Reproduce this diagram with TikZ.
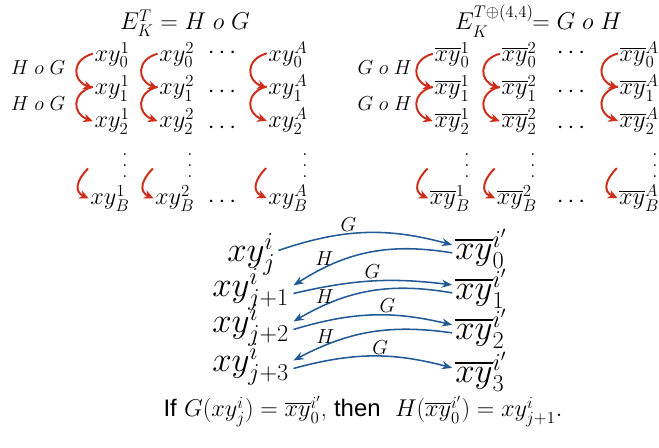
\documentclass[tikz,border=0pt]{standalone}
\usepackage{amsmath}
\usepackage{fontspec}
\newfontfamily\notesans{Liberation Sans}
\usetikzlibrary{arrows.meta, positioning}

\definecolor{chainred}{RGB}{205,45,25}
\definecolor{mapblue}{RGB}{35,90,150}
\newcommand{\colvdots}{\vbox{\baselineskip=7.8pt\lineskiplimit=0pt\hbox{.}\hbox{.}\hbox{.}}}

\begin{document}
\begin{tikzpicture}[>=Stealth,
  head/.style={anchor=base, inner sep=0pt, font=\fontsize{18}{22}\selectfont},
  tag/.style={anchor=base, inner sep=0pt, font=\fontsize{15.5}{19}\selectfont},
  cell/.style={anchor=base, inner sep=0pt, font=\fontsize{16.5}{19}\selectfont},
  gap/.style={inner sep=0pt, font=\fontsize{16}{19}\selectfont},
  big/.style={anchor=base west, inner sep=0pt, font=\fontsize{23}{27}\selectfont},
  note/.style={anchor=base, inner sep=0pt, font=\fontsize{17}{21}\selectfont},
  maplabel/.style={inner sep=1pt, font=\fontsize{15}{18}\selectfont},
  chain/.style={-{Stealth[length=2.4mm, width=2.2mm]}, draw=chainred, line width=1.4pt},
  map/.style={-{Stealth[length=2.6mm, width=2mm]}, draw=mapblue, line width=1.1pt}]
  \useasboundingbox (0,0) rectangle (16.475,11.2);

  \node[head] (titleL) at (4.625,10.45) {$E^T_K = H\; o\; G$};
  \node[head] (titleR) at (13.46,10.45) {$E_K^{T\oplus(4,4)}\!\!= G\; o\; H$};

  \node[tag] (tagL1) at (0.95,9.325) {$H\;o\;G$};
  \node[tag] (tagL2) at (0.95,8.425) {$H\;o\;G$};
  \node[tag] (tagR1) at (9.62,9.325) {$G\;o\;H$};
  \node[tag] (tagR2) at (9.62,8.425) {$G\;o\;H$};

  \node[cell] (l1-0) at (2.8,9.65) {$xy^1_0$};
  \node[cell] (l1-1) at (2.8,8.825) {$xy^1_1$};
  \node[cell] (l1-2) at (2.8,8.0) {$xy^1_2$};
  \node[cell] (l1-B) at (2.75,6.075) {$xy^1_B$};
  \node[cell] (l2-0) at (4.42,9.65) {$xy^2_0$};
  \node[cell] (l2-1) at (4.42,8.825) {$xy^2_1$};
  \node[cell] (l2-2) at (4.42,8.0) {$xy^2_2$};
  \node[cell] (l2-B) at (4.37,6.075) {$xy^2_B$};
  \node[cell] (lA-0) at (7.2,9.65) {$xy^A_0$};
  \node[cell] (lA-1) at (7.2,8.825) {$xy^A_1$};
  \node[cell] (lA-2) at (7.2,8.0) {$xy^A_2$};
  \node[cell] (lA-B) at (7.2,6.075) {$xy^A_B$};
  \node[gap] (ld-0) at (5.6,9.875) {$\cdots$};
  \node[gap] (ld-1) at (5.6,8.9) {$\cdots$};
  \node[gap] (ld-2) at (5.6,8.0) {$\cdots$};
  \node[gap] (ld-B) at (5.6,6.15) {$\cdots$};
  \node[gap] (lv-1) at (3.125,7.05) {\colvdots};
  \node[gap] (lv-2) at (4.75,7.05) {\colvdots};
  \node[gap] (lv-A) at (7.625,7.05) {\colvdots};

  \node[cell] (r1-0) at (11.3,9.65) {$\overline{xy}^1_0$};
  \node[cell] (r1-1) at (11.3,8.825) {$\overline{xy}^1_1$};
  \node[cell] (r1-2) at (11.3,8.0) {$\overline{xy}^1_2$};
  \node[cell] (r1-B) at (11.25,6.075) {$\overline{xy}^1_B$};
  \node[cell] (r2-0) at (12.975,9.65) {$\overline{xy}^2_0$};
  \node[cell] (r2-1) at (12.975,8.825) {$\overline{xy}^2_1$};
  \node[cell] (r2-2) at (12.975,8.0) {$\overline{xy}^2_2$};
  \node[cell] (r2-B) at (12.925,6.075) {$\overline{xy}^2_B$};
  \node[cell] (rA-0) at (15.98,9.65) {$\overline{xy}^A_0$};
  \node[cell] (rA-1) at (15.98,8.825) {$\overline{xy}^A_1$};
  \node[cell] (rA-2) at (15.98,8.0) {$\overline{xy}^A_2$};
  \node[cell] (rA-B) at (15.98,6.075) {$\overline{xy}^A_B$};
  \node[gap] (rd-0) at (14.325,9.875) {$\cdots$};
  \node[gap] (rd-1) at (14.325,8.9) {$\cdots$};
  \node[gap] (rd-2) at (14.325,8.0) {$\cdots$};
  \node[gap] (rd-B) at (14.325,6.15) {$\cdots$};
  \node[gap] (rv-1) at (11.675,7.05) {\colvdots};
  \node[gap] (rv-2) at (13.325,7.05) {\colvdots};
  \node[gap] (rv-A) at (16.375,7.05) {\colvdots};

  \coordinate (l1-t) at ([shift={(-0.05,0.75)}]l1-B.west);
  \coordinate (l2-t) at ([shift={(-0.05,0.75)}]l2-B.west);
  \coordinate (lA-t) at ([shift={(-0.05,0.75)}]lA-B.west);
  \coordinate (r1-t) at ([shift={(-0.05,0.75)}]r1-B.west);
  \coordinate (r2-t) at ([shift={(-0.05,0.75)}]r2-B.west);
  \coordinate (rA-t) at ([shift={(-0.05,0.75)}]rA-B.west);

  \draw[chain] ([shift={(-1pt,1pt)}]l1-0.west) to[out=195, in=160, looseness=1.65] ([xshift=-1pt]l1-1.west);
  \draw[chain] ([shift={(-1pt,1pt)}]l1-1.west) to[out=195, in=160, looseness=1.65] ([xshift=-1pt]l1-2.west);
  \draw[chain] ([shift={(-1pt,1pt)}]l2-0.west) to[out=195, in=160, looseness=1.65] ([xshift=-1pt]l2-1.west);
  \draw[chain] ([shift={(-1pt,1pt)}]l2-1.west) to[out=195, in=160, looseness=1.65] ([xshift=-1pt]l2-2.west);
  \draw[chain] ([shift={(-1pt,1pt)}]lA-0.west) to[out=195, in=160, looseness=1.65] ([xshift=-1pt]lA-1.west);
  \draw[chain] ([shift={(-1pt,1pt)}]lA-1.west) to[out=195, in=160, looseness=1.65] ([xshift=-1pt]lA-2.west);
  \draw[chain] ([shift={(-1pt,1pt)}]r1-0.west) to[out=195, in=160, looseness=1.65] ([xshift=-1pt]r1-1.west);
  \draw[chain] ([shift={(-1pt,1pt)}]r1-1.west) to[out=195, in=160, looseness=1.65] ([xshift=-1pt]r1-2.west);
  \draw[chain] ([shift={(-1pt,1pt)}]r2-0.west) to[out=195, in=160, looseness=1.65] ([xshift=-1pt]r2-1.west);
  \draw[chain] ([shift={(-1pt,1pt)}]r2-1.west) to[out=195, in=160, looseness=1.65] ([xshift=-1pt]r2-2.west);
  \draw[chain] ([shift={(-1pt,1pt)}]rA-0.west) to[out=195, in=160, looseness=1.65] ([xshift=-1pt]rA-1.west);
  \draw[chain] ([shift={(-1pt,1pt)}]rA-1.west) to[out=195, in=160, looseness=1.65] ([xshift=-1pt]rA-2.west);
  \draw[chain] (l1-t) to[out=225, in=155, looseness=1.4] ([xshift=-1pt]l1-B.west);
  \draw[chain] (l2-t) to[out=225, in=155, looseness=1.4] ([xshift=-1pt]l2-B.west);
  \draw[chain] (lA-t) to[out=225, in=155, looseness=1.4] ([xshift=-1pt]lA-B.west);
  \draw[chain] (r1-t) to[out=225, in=155, looseness=1.4] ([xshift=-1pt]r1-B.west);
  \draw[chain] (r2-t) to[out=225, in=155, looseness=1.4] ([xshift=-1pt]r2-B.west);
  \draw[chain] (rA-t) to[out=225, in=155, looseness=1.4] ([xshift=-1pt]rA-B.west);

  \node[big] (xl0) at (5.675,4.65) {$xy^i_j$};
  \node[big] (xl1) at (5.3,3.775) {$xy^i_{j+1}$};
  \node[big] (xl2) at (5.3,2.875) {$xy^i_{j+2}$};
  \node[big] (xl3) at (5.3,1.9) {$xy^i_{j+3}$};
  \node[big] (xr0) at (11.375,4.7) {$\overline{xy}^{i'}_0$};
  \node[big] (xr1) at (11.375,3.7) {$\overline{xy}^{i'}_1$};
  \node[big] (xr2) at (11.375,2.7) {$\overline{xy}^{i'}_2$};
  \node[big] (xr3) at (11.375,1.625) {$\overline{xy}^{i'}_3$};

  \draw[map] ([shift={(2pt,1mm)}]xl0.east) to[bend left=17] node[pos=0.4, above, maplabel] {$G$} ([shift={(-2pt,1mm)}]xr0.west);
  \draw[map] ([shift={(-2pt,-1mm)}]xr0.west) to[bend right=21] node[pos=0.8, above, maplabel] {$H$} ([shift={(3pt,1mm)}]xl1.east);
  \draw[map] ([shift={(3pt,-1mm)}]xl1.east) to[bend left=10] node[pos=0.5, above, maplabel] {$G$} ([shift={(-2pt,1mm)}]xr1.west);
  \draw[map] ([shift={(-2pt,-1mm)}]xr1.west) to[bend right=20] node[pos=0.8, above, maplabel] {$H$} ([shift={(3pt,1mm)}]xl2.east);
  \draw[map] ([shift={(3pt,-1mm)}]xl2.east) to[bend left=15] node[pos=0.6, above, maplabel] {$G$} ([shift={(-2pt,1mm)}]xr2.west);
  \draw[map] ([shift={(-2pt,-1mm)}]xr2.west) to[bend right=18] node[pos=0.8, above, maplabel] {$H$} ([shift={(3pt,1mm)}]xl3.east);
  \draw[map] ([shift={(3pt,-1mm)}]xl3.east) to[bend left=15] node[pos=0.55, above, maplabel] {$G$} ([shift={(-2pt,1mm)}]xr3.west);

  \node[note] (rule) at (9.075,0.775) {{\notesans If} $G(xy^i_j) = \overline{xy}^{i'}_0$, {\notesans then}\ \ $H(\overline{xy}^{i'}_0) = xy^i_{j+1}.$};
\end{tikzpicture}
\end{document}
